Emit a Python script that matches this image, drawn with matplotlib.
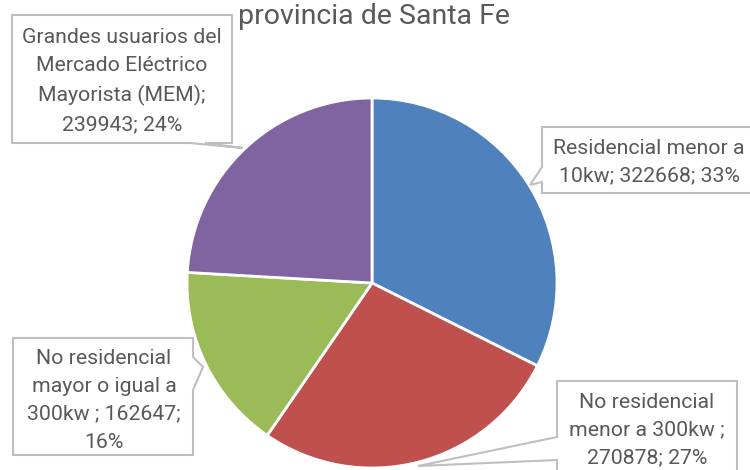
import matplotlib.pyplot as plt
from matplotlib.patches import Polygon

categories = ['Residencial menor a 10kw',
              'No residencial menor a 300kw ',
              'No residencial mayor o igual a 300kw ',
              'Grandes usuarios del Mercado Eléctrico Mayorista (MEM)']
values = [322668, 270878, 162647, 239943]
percents = [33, 27, 16, 24]
colors = ['#4F81BD', '#C0504D', '#9BBB59', '#8064A2']

# label text, wrapped the way the chart shows it
label_text = [
    'Residencial menor a\n10kw; 322668; 33%',
    'No residencial\nmenor a 300kw ;\n270878; 27%',
    'No residencial\nmayor o igual a\n300kw ; 162647;\n16%',
    'Grandes usuarios del\nMercado Eléctrico\nMayorista (MEM);\n239943; 24%',
]

W, H = 750, 470
FONT = ['Roboto', 'DejaVu Sans']
GREY_TXT = '#595959'
GREY_BOX = '#BFBFBF'

fig = plt.figure(figsize=(W / 100, H / 100), dpi=100)

# pie, centre (372, 283) px, radius 185 px
cx, cy, r = 372, 283, 185
ax = fig.add_axes([(cx - r) / W, (H - cy - r) / H, 2 * r / W, 2 * r / H])
ax.pie(values, colors=colors, startangle=90, counterclock=False,
       wedgeprops=dict(edgecolor='white', linewidth=2))
ax.set_xlim(-1, 1)
ax.set_ylim(-1, 1)
ax.set_aspect('equal')

# overlay in pixel coords for title and callouts
ov = fig.add_axes([0, 0, 1, 1])
ov.set_xlim(0, W)
ov.set_ylim(H, 0)
ov.axis('off')

ov.text(374, 16, 'provincia de Santa Fe', ha='center', va='center',
        fontsize=20.5, color=GREY_TXT, family=FONT)

# callout shapes: box (x0, y0, x1, y1), pointer (side, a, b, tip), text centre
callouts = [
    ((542, 127, 760, 193), ('left', 167, 182, (530, 185)), (649, 162)),
    ((557, 381, 737, 480), ('left', 437, 460, (418, 466)), (647, 430)),
    ((13, 338, 193, 455), ('right', 357, 390, (203, 367)), (104, 400)),
    ((12, 15, 232, 143), ('bottom', 190, 205, (243, 148)), (122, 81)),
]

for (box, ptr, tc), txt in zip(callouts, label_text):
    x0, y0, x1, y1 = box
    side, a, b, tip = ptr
    if side == 'left':
        pts = [(x0, y0), (x1, y0), (x1, y1), (x0, y1), (x0, b), tip, (x0, a)]
    elif side == 'right':
        pts = [(x0, y0), (x1, y0), (x1, a), tip, (x1, b), (x1, y1), (x0, y1)]
    else:
        pts = [(x0, y0), (x1, y0), (x1, y1), (b, y1), tip, (a, y1), (x0, y1)]
    ov.add_patch(Polygon(pts, closed=True, facecolor='white',
                         edgecolor=GREY_BOX, linewidth=1.5))
    ov.text(tc[0], tc[1], txt, ha='center', va='center', fontsize=15.3,
            color=GREY_TXT, family=FONT, linespacing=1.6)

fig.savefig('out.png', dpi=100)
